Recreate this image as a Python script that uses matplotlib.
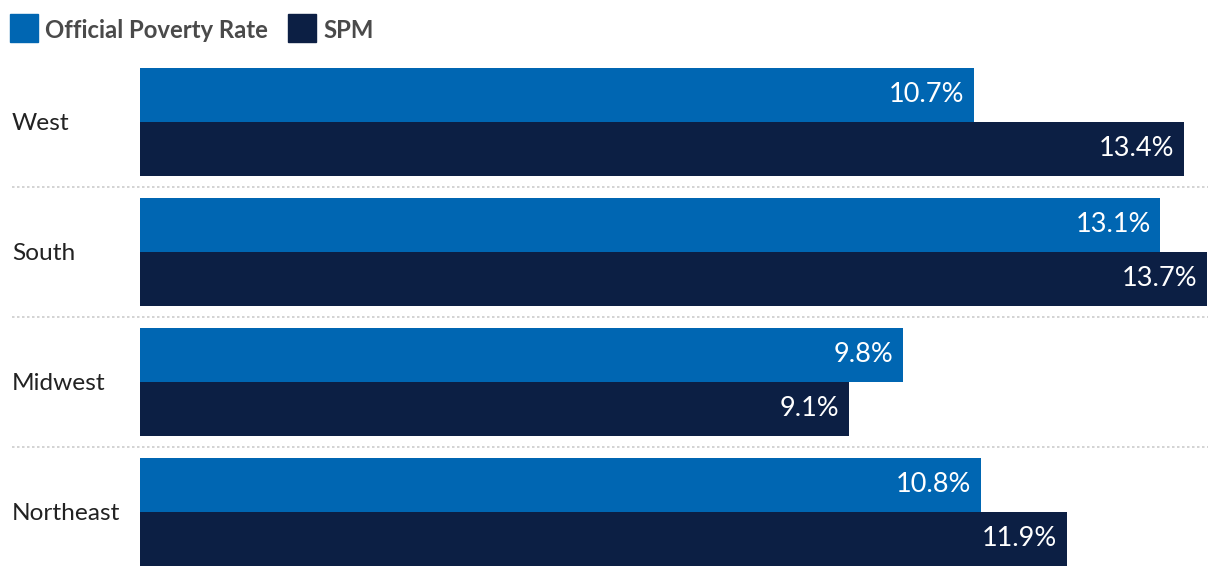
import numpy as np
import matplotlib
matplotlib.use("Agg")
import matplotlib.pyplot as plt
from matplotlib.patches import Rectangle
from matplotlib.transforms import blended_transform_factory

plt.rcParams['font.family'] = ['Lato', 'DejaVu Sans']

regions = ['West', 'South', 'Midwest', 'Northeast']
official = [10.7, 13.1, 9.8, 10.8]
spm = [13.4, 13.7, 9.1, 11.9]
series_names = ['Official Poverty Rate', 'SPM']
colors = ['#0066b2', '#0c1f44']

W, H = 1220, 576
fig = plt.figure(figsize=(W / 100, H / 100), dpi=100)
ax = fig.add_axes([140 / W, 0, 1 - 140 / W, 1])

y = np.arange(len(regions))
h = 54 / 130
ax.barh(y - h / 2, official, height=h, color=colors[0])
ax.barh(y + h / 2, spm, height=h, color=colors[1])

ax.set_xlim(0, 1080 / 77.9)
ax.set_ylim((576 - 122) / 130, -122 / 130)
ax.axis('off')

for yi, vals in [(y - h / 2, official), (y + h / 2, spm)]:
    for yy, v in zip(yi, vals):
        ax.annotate(f'{v}%', (v, yy), xytext=(-7, 0), textcoords='offset points',
                    ha='right', va='center', color='white', fontsize=19.5)

tr = blended_transform_factory(fig.transFigure, ax.transData)
for i, r in enumerate(regions):
    ax.text(12 / W, i, r, transform=tr, ha='left', va='center_baseline',
            fontsize=17.6, color='#222222')
for i in range(len(regions) - 1):
    ax.plot([12 / W, 1208 / W], [i + 0.5, i + 0.5], transform=tr, clip_on=False,
            color='#cccccc', lw=1.2, ls=(0, (1.5, 1.5)))

# legend
lx = [10, 288]
for x0, name, c in zip(lx, series_names, colors):
    fig.patches.append(Rectangle((x0 / W, 1 - 42 / H), 28 / W, 28 / H,
                                 transform=fig.transFigure, color=c))
    fig.text((x0 + 35) / W, 1 - 28 / H, name, ha='left', va='center_baseline',
             fontsize=17.2, color='#4a4a4a', fontweight='bold')

fig.savefig('out.png', dpi=100)
